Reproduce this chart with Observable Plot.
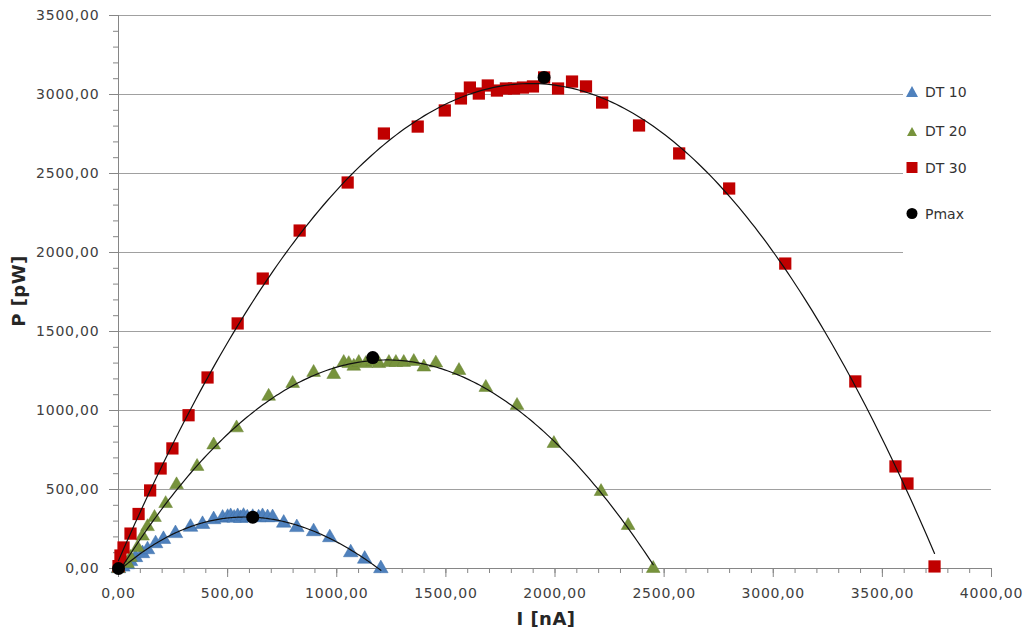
<!DOCTYPE html>
<html>
<head>
<meta charset="utf-8">
<script src="https://cdn.jsdelivr.net/npm/d3@7"></script>
<script src="https://cdn.jsdelivr.net/npm/@observablehq/plot@0.6"></script>
<style>
  html, body { margin: 0; padding: 0; background: #fff; }
  #wrap { position: relative; width: 1024px; height: 632px; overflow: hidden; font-family: "DejaVu Sans", Verdana, sans-serif; }
  #chart svg text { letter-spacing: 0.8px; }
  .title { position: absolute; font-weight: bold; font-size: 18px; color: #262626; white-space: nowrap; letter-spacing: 0.5px; }
  #legend { position: absolute; left: 903px; top: 80px; width: 88px; height: 180px; background: #fff; }
  .item { position: absolute; left: 0; height: 16px; font-size: 14px; color: #333; white-space: nowrap; }
  .item svg { position: absolute; left: 3px; top: 1px; }
  .item span { position: absolute; left: 22px; top: -1px; line-height: 18px; }
</style>
</head>
<body>
<div id="wrap">
  <div id="chart"></div>
  <div class="title" style="left:18px; top:291px; transform: translate(-50%,-50%) rotate(-90deg);">P [pW]</div>
  <div class="title" style="left:546px; top:618px; transform: translate(-50%,-50%);">I [nA]</div>
  <div id="legend"></div>
</div>
<script>
// ---- data ----
const seriesNames = ["DT 10", "DT 20", "DT 30", "Pmax"];
const seriesColors = ["#4f81bd", "#77933c", "#c00000", "#000000"];

const dt10I = [0, 20, 40, 55, 78, 110, 133, 170, 206, 261, 330, 385, 436, 477, 500, 514, 530, 546, 560, 573, 590, 615, 642, 660, 683, 706, 757, 817, 894, 968, 1064, 1128, 1202];
const dt10P = [0, 10, 25, 45, 70, 95, 120, 158, 185, 222, 262, 280, 310, 320, 325, 330, 320, 330, 318, 332, 322, 325, 322, 330, 323, 323, 288, 260, 234, 196, 101, 60, 0];

const dt20I = [0, 41, 55, 87, 110, 133, 165, 216, 266, 360, 436, 541, 688, 798, 894, 986, 1032, 1055, 1078, 1101, 1133, 1165, 1193, 1239, 1271, 1307, 1353, 1399, 1454, 1560, 1683, 1826, 1995, 2211, 2335, 2450];
const dt20P = [0, 32, 70, 133, 205, 265, 323, 411, 530, 646, 782, 890, 1090, 1171, 1241, 1228, 1304, 1297, 1280, 1304, 1297, 1310, 1297, 1304, 1304, 1304, 1310, 1275, 1300, 1253, 1146, 1032, 791, 487, 272, 0];

const dt30I = [0, 9, 23, 55, 92, 145, 193, 247, 321, 408, 546, 661, 830, 1050, 1216, 1371, 1495, 1569, 1610, 1651, 1692, 1734, 1775, 1812, 1853, 1899, 1950, 2014, 2078, 2142, 2216, 2385, 2569, 2798, 3055, 3376, 3560, 3615, 3739];
const dt30P = [15, 82, 133, 221, 345, 494, 633, 760, 970, 1209, 1551, 1835, 2139, 2443, 2753, 2797, 2899, 2975, 3044, 3006, 3057, 3025, 3038, 3038, 3044, 3051, 3108, 3038, 3082, 3051, 2949, 2804, 2627, 2405, 1930, 1184, 646, 538, 13];

const pmaxI = [0, 615, 1165, 1950];
const pmaxP = [0, 325, 1335, 3108];

const xTicksMajor = [0, 500, 1000, 1500, 2000, 2500, 3000, 3500, 4000];
const yTicksMajor = [0, 500, 1000, 1500, 2000, 2500, 3000, 3500];
const xTicksMinor = d3.range(0, 4001, 100);
const yTicksMinor = d3.range(0, 3501, 100);

// ---- helpers ----
const fmt = v => v.toFixed(2).replace(".", ",");
const toRows = (I, P, name) => I.map((v, i) => ({I: v, P: P[i], s: name}));

// least-squares polynomial trendline (as the spreadsheet's trendline)
function polyfit(xs, ys, deg) {
  const n = deg + 1;
  const A = Array.from({length: n}, () => new Array(n + 1).fill(0));
  xs.forEach((xv, i) => {
    const x = xv / 1000;
    for (let r = 0; r < n; r++) {
      for (let c = 0; c < n; c++) A[r][c] += Math.pow(x, r + c);
      A[r][n] += Math.pow(x, r) * ys[i];
    }
  });
  for (let c = 0; c < n; c++) {
    let p = c;
    for (let r = c + 1; r < n; r++) if (Math.abs(A[r][c]) > Math.abs(A[p][c])) p = r;
    [A[c], A[p]] = [A[p], A[c]];
    for (let r = 0; r < n; r++) {
      if (r === c) continue;
      const f = A[r][c] / A[c][c];
      for (let k = c; k <= n; k++) A[r][k] -= f * A[c][k];
    }
  }
  const coef = A.map((row, i) => row[n] / row[i]);
  return xv => coef.reduce((s, a, k) => s + a * Math.pow(xv / 1000, k), 0);
}
function trend(I, P, name, deg) {
  const f = polyfit(I, P, deg);
  const xmax = d3.max(I);
  return d3.range(0, 201).map(k => { const x = xmax * k / 200; return {I: x, P: f(x), s: name}; });
}

const d10 = toRows(dt10I, dt10P, "DT 10");
const d20 = toRows(dt20I, dt20P, "DT 20");
const d30 = toRows(dt30I, dt30P, "DT 30");
const dmax = toRows(pmaxI, pmaxP, "Pmax");
const trends = [
  ...trend(dt10I, dt10P, "DT 10", 3),
  ...trend(dt20I, dt20P, "DT 20", 3),
  ...trend(dt30I, dt30P, "DT 30", 3)
];

const axisGray = "#868686";
const textGray = "#404040";

const chart = Plot.plot({
  width: 1024,
  height: 632,
  marginLeft: 118,
  marginRight: 33,
  marginTop: 15,
  marginBottom: 64,
  style: {fontFamily: "DejaVu Sans, Verdana, sans-serif", fontSize: "14px", color: textGray, background: "#fff", overflow: "visible"},
  x: {domain: [0, 4000]},
  y: {domain: [0, 3500]},
  marks: [
    Plot.ruleY(yTicksMajor.filter(v => v > 0), {stroke: "#a0a0a0", strokeWidth: 1}),
    Plot.axisY(yTicksMinor, {tickSize: 5, tickFormat: () => "", stroke: axisGray, label: null}),
    Plot.axisY(yTicksMajor, {tickSize: 9, tickPadding: 10, tickFormat: fmt, stroke: axisGray, fill: textGray, label: null}),
    Plot.axisX(xTicksMinor, {tickSize: 5, tickFormat: () => "", stroke: axisGray, label: null}),
    Plot.axisX(xTicksMajor, {tickSize: 9, tickPadding: 11, tickFormat: fmt, stroke: axisGray, fill: textGray, label: null}),
    Plot.ruleX([0], {stroke: axisGray}),
    Plot.ruleY([0], {stroke: axisGray}),
    Plot.dot(d10, {x: "I", y: "P", symbol: "triangle", r: 5.4, fill: seriesColors[0], stroke: "#3c6ea8", strokeWidth: 0.5}),
    Plot.dot(d20, {x: "I", y: "P", symbol: "triangle", r: 5.1, fill: seriesColors[1], stroke: "#6a8535", strokeWidth: 0.5}),
    Plot.dot(d30, {x: "I", y: "P", symbol: "square", r: 6.9, fill: seriesColors[2]}),
    Plot.line(trends, {x: "I", y: "P", z: "s", stroke: "#111", strokeWidth: 1.2}),
    Plot.dot(dmax, {x: "I", y: "P", r: 6.5, fill: seriesColors[3]})
  ]
});
document.getElementById("chart").appendChild(chart);

// ---- legend ----
const legendRows = [12, 51, 88, 134];
const shapes = [
  c => `<polygon points="6,1 12,12 0,12" fill="${c}"/>`,
  c => `<polygon points="6,3 11,12 1,12" fill="${c}"/>`,
  c => `<rect x="0.5" y="1" width="11" height="11" fill="${c}"/>`,
  c => `<circle cx="6" cy="6.5" r="5.5" fill="${c}"/>`
];
const leg = document.getElementById("legend");
seriesNames.forEach((name, i) => {
  const div = document.createElement("div");
  div.className = "item";
  div.style.top = (legendRows[i] - 8) + "px";
  div.innerHTML = `<svg width="13" height="14">${shapes[i](seriesColors[i])}</svg><span>${name}</span>`;
  leg.appendChild(div);
});
</script>
</body>
</html>
